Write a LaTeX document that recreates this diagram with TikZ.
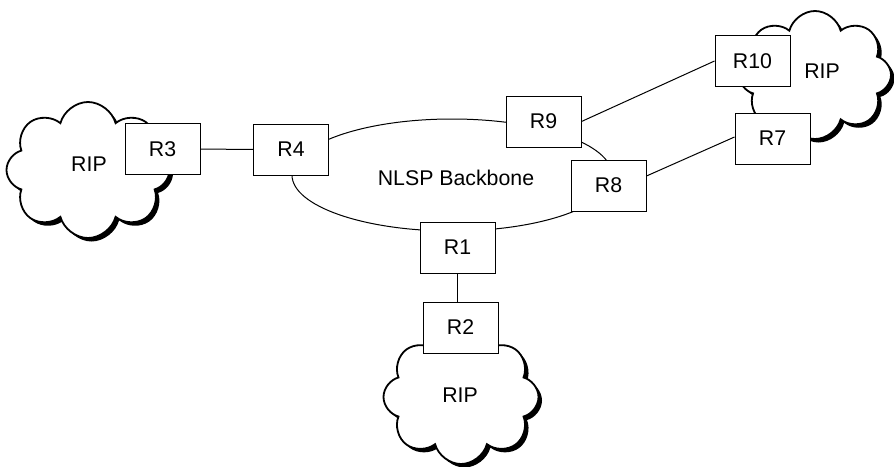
\documentclass[tikz,border=0pt]{standalone}
\usepackage{fontspec}
\setmainfont{Liberation Sans}
\usetikzlibrary{shapes.geometric,shapes.symbols,shadows}
\begin{document}
\begin{tikzpicture}[x=1pt,y=-1pt,
  every node/.style={font=\fontsize{21.3}{25}\selectfont},
  router/.style={draw, fill=white, line width=1pt, minimum width=75pt, minimum height=51pt, inner sep=0pt},
  ripcloud/.style={cloud, cloud puffs=8, cloud puff arc=150, cloud ignores aspect, draw, fill=white, line width=1.8pt, inner sep=0pt,
     drop shadow={shadow xshift=3.5pt, shadow yshift=-3.5pt, fill=black, opacity=1}},
  link/.style={line width=1pt}]
\useasboundingbox (0,0) rectangle (894,466);
% backbone
\node[ellipse, draw, line width=1pt, minimum width=320pt, minimum height=112pt] (bb) at (452,175) {};
\node (bbtxt) at (456,178) {NLSP Backbone};
% clouds
\node[ripcloud, minimum width=163pt, minimum height=136pt] (c1) at (88,170) {};
\node[ripcloud, minimum width=152pt, minimum height=128pt] (c2) at (815,75) {};
\node[ripcloud, minimum width=155pt, minimum height=134pt] (c3) at (461,397) {};
\node (t1) at (89,164) {RIP};
\node (t2) at (822,71) {RIP};
\node (t3) at (460,395) {RIP};
% routers
\node[router] (R3) at (162.5,149) {R3};
\node[router] (R4) at (291,149.5) {R4};
\node[router] (R9) at (543.5,121.5) {R9};
\node[router] (R8) at (608.5,185.5) {R8};
\node[router] (R1) at (457.5,247.5) {R1};
\node[router] (R2) at (460.5,327.5) {R2};
\node[router] (R10) at (752.5,61) {R10};
\node[router] (R7) at (772.5,138.5) {R7};
% links
\draw[link] (R3) -- (R4);
\draw[link] (R1.south) -- (R1.south |- R2.north);
\draw[link] (R9.east) -- (R10.west);
\draw[link] ([yshift=9.5pt]R8.east) -- ([yshift=1.5pt]R7.west);
\end{tikzpicture}
\end{document}
